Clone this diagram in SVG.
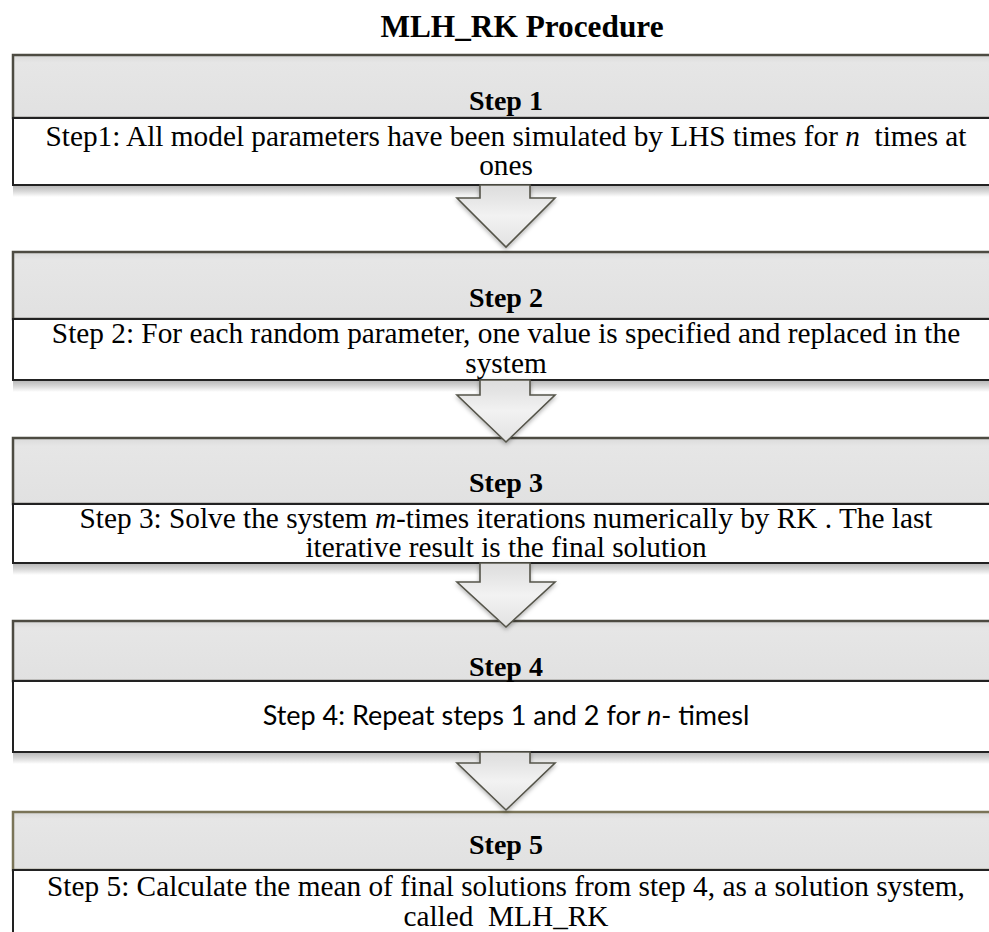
<svg xmlns="http://www.w3.org/2000/svg" width="989" height="932" viewBox="0 0 989 932">
<defs>
<linearGradient id="hdr" x1="0" y1="0" x2="0" y2="1">
<stop offset="0" stop-color="#d9d9d9"/>
<stop offset="0.12" stop-color="#e6e6e6"/>
<stop offset="1" stop-color="#e1e1e1"/>
</linearGradient>
<linearGradient id="shd" x1="0" y1="0" x2="0" y2="1">
<stop offset="0" stop-color="#b5b5b5"/>
<stop offset="0.5" stop-color="#d6d6d6"/>
<stop offset="1" stop-color="#ffffff"/>
</linearGradient>
<linearGradient id="arr" x1="0" y1="0" x2="0" y2="1">
<stop offset="0" stop-color="#dcdcdc"/>
<stop offset="0.5" stop-color="#f2f2f2"/>
<stop offset="1" stop-color="#e2e2e2"/>
</linearGradient>
<filter id="ds" x="-20%" y="-20%" width="140%" height="150%">
<feDropShadow dx="0" dy="2" stdDeviation="2" flood-color="#000" flood-opacity="0.3"/>
</filter>
</defs>
<style>
.hdr{fill:url(#hdr);stroke:#4d4b42;stroke-width:2.5}
.body{fill:#ffffff;stroke:#222;stroke-width:2}
.shd{fill:url(#shd)}
.lbl{font-family:"Liberation Serif","Times New Roman",serif;font-weight:bold;font-size:28px;fill:#000;text-anchor:middle}
.txt{font-family:"Liberation Serif","Times New Roman",serif;font-size:29.3px;fill:#000;text-anchor:middle}
.cal{font-family:Lato,"Open Sans",sans-serif;font-size:27px;fill:#000;text-anchor:middle}
.ttl{font-family:"Liberation Serif","Times New Roman",serif;font-weight:bold;font-size:31.3px;fill:#000;text-anchor:middle}
.arrow{fill:url(#arr);stroke:#55544a;stroke-width:1.6;stroke-linejoin:miter;filter:url(#ds)}
</style>
<rect x="0" y="0" width="989" height="932" fill="#ffffff"/>

<text class="ttl" x="522" y="37">MLH_RK Procedure</text>

<g id="step1">
<rect class="shd" x="13" y="185" width="990" height="12"/>
<rect class="hdr" x="13" y="55" width="990" height="63"/>
<rect class="body" x="13" y="118" width="990" height="67"/>
<text class="lbl" x="506" y="110">Step 1</text>
<text class="txt" x="506" y="146" xml:space="preserve">Step1: All model parameters have been simulated by LHS times for <tspan font-style="italic">n</tspan>  times at</text>
<text class="txt" x="506" y="175">ones</text>
</g>

<g id="step2">
<rect class="shd" x="13" y="380" width="990" height="12"/>
<rect class="hdr" x="13" y="252" width="990" height="67"/>
<rect class="body" x="13" y="319" width="990" height="61"/>
<text class="lbl" x="506" y="307">Step 2</text>
<text class="txt" x="506" y="343">Step 2: For each random parameter, one value is specified and replaced in the</text>
<text class="txt" x="506" y="373">system</text>
</g>

<g id="step3">
<rect class="shd" x="13" y="563" width="990" height="12"/>
<rect class="hdr" x="13" y="438" width="990" height="66"/>
<rect class="body" x="13" y="504" width="990" height="59"/>
<text class="lbl" x="506" y="492">Step 3</text>
<text class="txt" x="506" y="528">Step 3: Solve the system <tspan font-style="italic">m</tspan>-times iterations numerically by RK . The last</text>
<text class="txt" x="506" y="557">iterative result is the final solution</text>
</g>

<g id="step4">
<rect class="shd" x="13" y="752" width="990" height="12"/>
<rect class="hdr" x="13" y="621" width="990" height="60"/>
<rect class="body" x="13" y="681" width="990" height="71"/>
<text class="lbl" x="506" y="676">Step 4</text>
<text class="cal" x="506" y="725">Step 4: Repeat steps 1 and 2 for <tspan font-style="italic">n</tspan>- timesl</text>
</g>

<g id="step5">
<rect class="hdr" x="13" y="812" width="990" height="58" style="stroke:#7a7458"/>
<rect class="body" x="13" y="870" width="990" height="80"/>
<text class="lbl" x="506" y="854">Step 5</text>
<text class="txt" x="506" y="896">Step 5: Calculate the mean of final solutions from step 4, as a solution system,</text>
<text class="txt" x="506" y="926" xml:space="preserve">called  MLH_RK</text>
</g>

<g id="connectors">
<path class="arrow" d="M480,185 L530,185 L530,198 L555,198 L506,247 L457,198 L480,198 Z"/>
<path class="arrow" d="M480,380 L530,380 L530,395 L555,395 L506,442 L457,395 L480,395 Z"/>
<path class="arrow" d="M480,563 L530,563 L530,582 L555,582 L506,627 L457,582 L480,582 Z"/>
<path class="arrow" d="M480,752 L530,752 L530,763 L555,763 L506,810 L457,763 L480,763 Z"/>
</g>
</svg>
